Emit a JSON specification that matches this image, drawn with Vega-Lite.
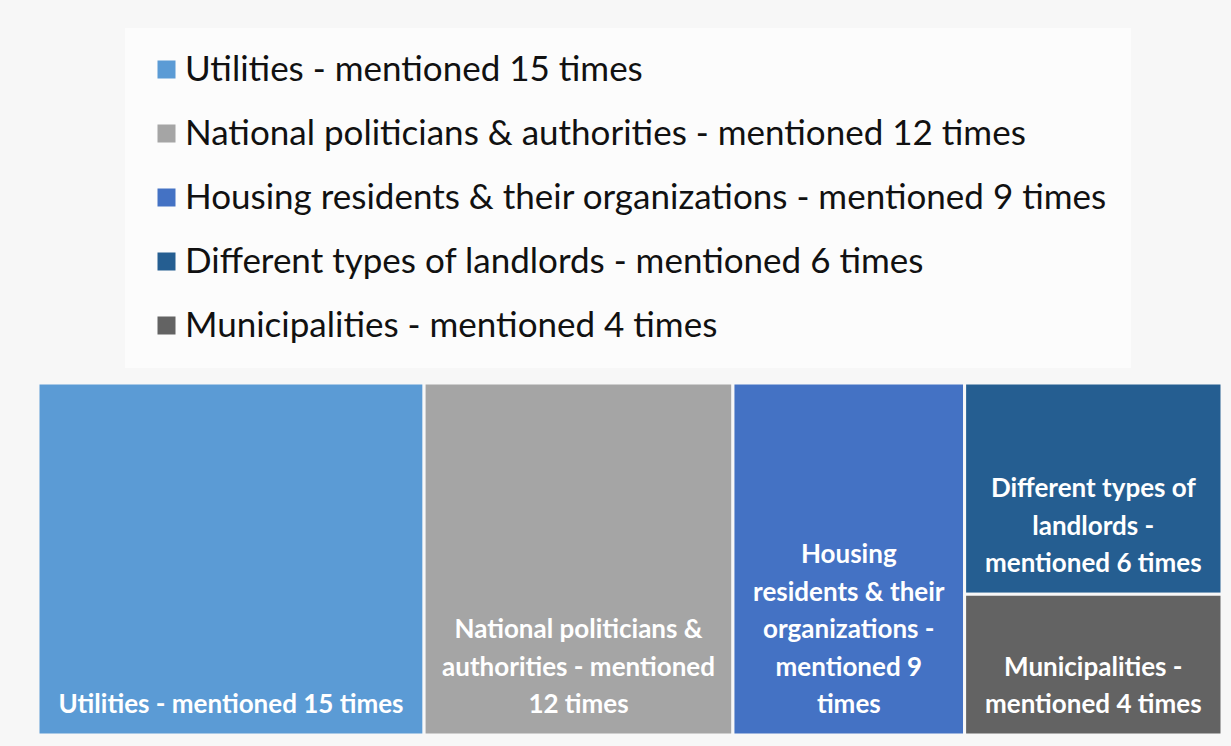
{
  "$schema": "https://vega.github.io/schema/vega-lite/v6.json",
  "width": 1184,
  "height": 352,
  "autosize": {"type": "none"},
  "padding": {"left": 38, "top": 383, "right": 9, "bottom": 11},
  "background": "#f7f7f7",
  "config": {"view": {"stroke": null}, "font": "Lato"},
  "data": {
    "values": [
      {"category": "Utilities - mentioned 15 times", "group": "A", "value": 15, "order": 1, "b0": "Utilities - mentioned 15 times", "b1": "", "b2": "", "b3": "", "b4": ""},
      {"category": "National politicians & authorities - mentioned 12 times", "group": "B", "value": 12, "order": 2, "b0": "12 times", "b1": "authorities - mentioned", "b2": "National politicians &", "b3": "", "b4": ""},
      {"category": "Housing residents & their organizations - mentioned 9 times", "group": "C", "value": 9, "order": 3, "b0": "times", "b1": "mentioned 9", "b2": "organizations -", "b3": "residents & their", "b4": "Housing"},
      {"category": "Different types of landlords - mentioned 6 times", "group": "D", "value": 6, "order": 4, "b0": "mentioned 6 times", "b1": "landlords -", "b2": "Different types of", "b3": "", "b4": ""},
      {"category": "Municipalities - mentioned 4 times", "group": "D", "value": 4, "order": 5, "b0": "mentioned 4 times", "b1": "Municipalities -", "b2": "", "b3": "", "b4": ""}
    ]
  },
  "transform": [
    {"stack": "value", "groupby": [], "sort": [{"field": "order", "order": "ascending"}], "as": ["s0", "s1"]},
    {"joinaggregate": [{"op": "min", "field": "s0", "as": "x0"}, {"op": "max", "field": "s1", "as": "x1"}], "groupby": ["group"]},
    {"stack": "value", "groupby": ["group"], "sort": [{"field": "order", "order": "descending"}], "offset": "normalize", "as": ["y0", "y1"]}
  ],
  "layer": [
    {
      "mark": {"type": "rect", "stroke": "#f7f7f7", "strokeWidth": 3},
      "encoding": {
        "x": {"field": "x0", "type": "quantitative", "scale": {"nice": false, "zero": true}, "axis": null},
        "x2": {"field": "x1"},
        "y": {"field": "y0", "type": "quantitative", "scale": {"domain": [0, 1], "nice": false}, "axis": null},
        "y2": {"field": "y1"},
        "color": {
          "field": "category",
          "type": "nominal",
          "sort": null,
          "scale": {
            "domain": [
              "Utilities - mentioned 15 times",
              "National politicians & authorities - mentioned 12 times",
              "Housing residents & their organizations - mentioned 9 times",
              "Different types of landlords - mentioned 6 times",
              "Municipalities - mentioned 4 times"
            ],
            "range": ["#5b9bd5", "#a5a5a5", "#4472c4", "#255e91", "#636363"]
          },
          "legend": {
            "orient": "none",
            "legendX": 87,
            "legendY": -355,
            "direction": "vertical",
            "title": null,
            "fillColor": "#fcfcfc",
            "padding": 24,
            "symbolType": "square",
            "symbolSize": 324,
            "symbolStrokeWidth": 0,
            "symbolOpacity": 1,
            "labelFontSize": 35,
            "labelFont": "Lato",
            "labelColor": "#111111",
            "labelOffset": 1,
            "labelLimit": 0,
            "rowPadding": 28
          }
        }
      }
    },
    {
      "transform": [
        {"fold": ["x0", "x1"], "as": ["edge", "xe"]},
        {"joinaggregate": [{"op": "mean", "field": "xe", "as": "xm"}], "groupby": ["order"]},
        {"filter": {"field": "edge", "equal": "x0"}}
      ],
      "encoding": {
        "x": {"field": "xm", "type": "quantitative"},
        "y": {"field": "y0", "type": "quantitative"}
      },
      "layer": [
        {
          "mark": {"type": "text", "align": "center", "baseline": "alphabetic", "dy": -22, "fontSize": 26, "fontWeight": "bold", "font": "Lato", "color": "#ffffff"},
          "encoding": {"text": {"field": "b0"}}
        },
        {
          "mark": {"type": "text", "align": "center", "baseline": "alphabetic", "dy": -59.5, "fontSize": 26, "fontWeight": "bold", "font": "Lato", "color": "#ffffff"},
          "encoding": {"text": {"field": "b1"}}
        },
        {
          "mark": {"type": "text", "align": "center", "baseline": "alphabetic", "dy": -97, "fontSize": 26, "fontWeight": "bold", "font": "Lato", "color": "#ffffff"},
          "encoding": {"text": {"field": "b2"}}
        },
        {
          "mark": {"type": "text", "align": "center", "baseline": "alphabetic", "dy": -134.5, "fontSize": 26, "fontWeight": "bold", "font": "Lato", "color": "#ffffff"},
          "encoding": {"text": {"field": "b3"}}
        },
        {
          "mark": {"type": "text", "align": "center", "baseline": "alphabetic", "dy": -172, "fontSize": 26, "fontWeight": "bold", "font": "Lato", "color": "#ffffff"},
          "encoding": {"text": {"field": "b4"}}
        }
      ]
    }
  ]
}
